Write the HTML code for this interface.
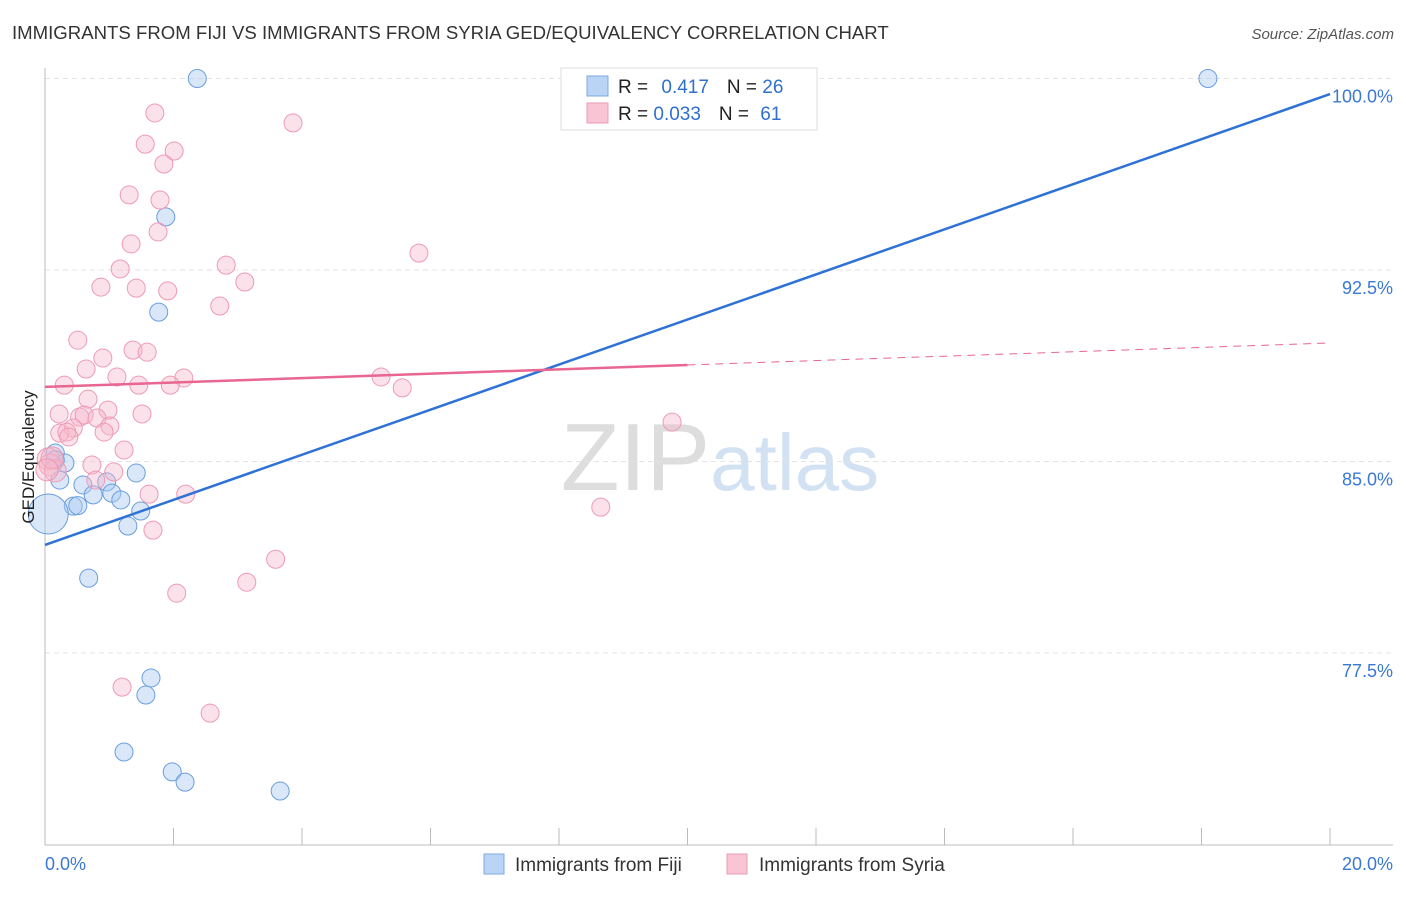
<!DOCTYPE html>
<html><head><meta charset="utf-8"><style>
body{margin:0;background:#fff;font-family:"Liberation Sans",sans-serif;}
svg text{font-family:"Liberation Sans",sans-serif;}
</style></head><body>
<svg id="chart" width="1406" height="892" xmlns="http://www.w3.org/2000/svg">
<text x="12" y="39" font-size="18.6" fill="#333">IMMIGRANTS FROM FIJI VS IMMIGRANTS FROM SYRIA GED/EQUIVALENCY CORRELATION CHART</text>
<text x="1394" y="39" font-size="15" fill="#555" text-anchor="end" font-style="italic">Source: ZipAtlas.com</text>
<text x="720" y="490" font-size="96" fill="#e4e4e4" text-anchor="middle" font-family="Liberation Serif"><tspan fill="#ddd">ZIP</tspan><tspan fill="#d3e2f3" font-family="Liberation Sans" font-size="80">atlas</tspan></text>
<g id="grid"></g><g id="axes"></g><g id="marks"></g>
<g>
<rect x="561" y="68" width="256" height="62" fill="#fff" stroke="#ddd"/>
<rect x="587" y="76" width="21" height="20" fill="#b9d4f5" stroke="#7ea9e0"/>
<rect x="587" y="103" width="21" height="20" fill="#f9c5d4" stroke="#eb9ab3"/>
<text x="618" y="93" font-size="19" fill="#222">R = <tspan fill="#2f6fd0" dx="8">0.417</tspan><tspan dx="18" fill="#222">N = </tspan><tspan fill="#2f6fd0">26</tspan></text>
<text x="618" y="120" font-size="19" fill="#222">R = <tspan fill="#2f6fd0">0.033</tspan><tspan dx="18" fill="#222">N = </tspan><tspan fill="#2f6fd0" dx="6">61</tspan></text>
</g>
<g>
<rect x="484" y="854" width="20" height="20" fill="#b9d4f5" stroke="#7ea9e0"/>
<text x="515" y="871" font-size="19" fill="#333">Immigrants from Fiji</text>
<rect x="727" y="854" width="20" height="20" fill="#f9c5d4" stroke="#eb9ab3"/>
<text x="759" y="871" font-size="19" fill="#333">Immigrants from Syria</text>
</g>
</svg>
<script>
const fijiX=[2.37,18.1,1.88,1.77,0.16,0.31,0.23,1.42,0.59,0.96,1.04,0.75,1.18,0.44,0.51,1.49,1.29,0.05,0.68,1.65,1.57,1.23,1.98,2.18,3.66,0.16];
const fijiY=[100,100,94.58,90.85,85.33,84.94,84.27,84.55,84.08,84.2,83.76,83.69,83.49,83.25,83.27,83.06,82.47,82.94,80.43,76.52,75.85,73.62,72.84,72.44,72.09,85.06];
const syriaX=[1.71,3.86,1.56,2.01,1.85,1.31,1.79,1.76,1.34,5.82,1.17,2.82,3.11,0.87,1.42,1.91,2.72,0.51,1.37,1.59,0.90,0.64,1.12,2.16,5.23,0.30,1.46,1.95,5.56,0.67,0.98,0.22,1.51,0.54,0.61,0.81,0.44,1.01,0.23,0.34,0.92,0.37,1.23,9.76,0.73,1.07,0.79,0.05,0.08,0.16,1.62,2.19,8.65,1.68,3.59,3.14,2.05,1.20,2.57,0.11,0.03];
const syriaY=[98.65,98.26,97.43,97.16,96.65,95.44,95.24,93.99,93.52,93.16,92.54,92.69,92.03,91.83,91.79,91.68,91.09,89.75,89.36,89.28,89.05,88.62,88.31,88.27,88.31,87.99,87.99,87.99,87.88,87.44,87.01,86.86,86.86,86.74,86.82,86.70,86.31,86.39,86.11,86.15,86.15,85.96,85.45,86.54,84.86,84.59,84.27,85.10,84.86,84.63,83.72,83.72,83.21,82.31,81.17,80.27,79.84,76.16,75.14,85.14,84.67];
const yTicks=[100,92.5,85,77.5];
const yTickLabels=["100.0%","92.5%","85.0%","77.5%"];
const xTickLabels=["0.0%","20.0%"];
const fijiTrend=[81.73,99.39];
const syriaTrend=[87.92,89.64];
const NS="http://www.w3.org/2000/svg";
const X=v=>45+v/20*1285;
const Y=v=>78.5+(100-v)*25.53;
function mk(tag,attrs,parent){const e=document.createElementNS(NS,tag);for(const k in attrs)e.setAttribute(k,attrs[k]);parent.appendChild(e);return e;}
const svg=document.getElementById('chart');
const grid=document.getElementById('grid'),axes=document.getElementById('axes'),marks=document.getElementById('marks');
yTicks.forEach((t,i)=>{
 const l=mk('line',{x1:45,x2:1393,y1:Y(t),y2:Y(t),stroke:'#e3e3e3','stroke-dasharray':'5,4'},grid);
 
 
 const tx=mk('text',{x:1393,y:Y(t)+24,'font-size':18,fill:'#3a78d4','text-anchor':'end'},axes);
 tx.textContent=yTickLabels[i];
 
 
});
const xa=mk('line',{x1:45,x2:1393,y1:845,y2:845,stroke:'#bbb'},axes);


const ya=mk('line',{x1:45,x2:45,y1:68,y2:845,stroke:'#bbb'},axes);


for(let i=1;i<=10;i++){const t=mk('line',{x1:X(i*2),x2:X(i*2),y1:828,y2:845,stroke:'#bbb'},axes);
 
 }
[[0,45,'start'],[20,1393,'end']].forEach((a,i)=>{const t=mk('text',{x:a[1],y:870,'font-size':18,fill:'#3a78d4','text-anchor':a[2]},axes);t.textContent=xTickLabels[i];
 
 });
fijiX.forEach((v,i)=>{const big=(i===17);const c=mk('circle',{cx:X(v),cy:Y(fijiY[i]),r:big?20:9,fill:'rgba(170,202,242,0.45)',stroke:'#6a9ede','stroke-width':1},marks);
 
 });
syriaX.forEach((v,i)=>{const big=(i>=47&&i<=49)||i>=59;const c=mk('circle',{cx:X(v),cy:Y(syriaY[i]),r:big?11:9,fill:'rgba(246,182,202,0.4)',stroke:'#ee9ab4','stroke-width':1},marks);
 
 });
const fl=mk('line',{x1:X(0),y1:Y(fijiTrend[0]),x2:X(20),y2:Y(fijiTrend[1]),stroke:'#2f72d6','stroke-width':2.5},marks);


const sm=syriaTrend[0]+(syriaTrend[1]-syriaTrend[0])*0.5;
const sl=mk('line',{x1:X(0),y1:Y(syriaTrend[0]),x2:X(10),y2:Y(sm),stroke:'#e8668f','stroke-width':2.5},marks);


const sd=mk('line',{x1:X(10),y1:Y(sm),x2:X(20),y2:Y(syriaTrend[1]),stroke:'#e8668f','stroke-width':1,'stroke-dasharray':'8,6'},marks);


const yt=mk('text',{transform:'translate(34,457) rotate(-90)','font-size':17,fill:'#222','text-anchor':'middle'},svg);
yt.textContent='GED/Equivalency';


</script>
</body></html>
